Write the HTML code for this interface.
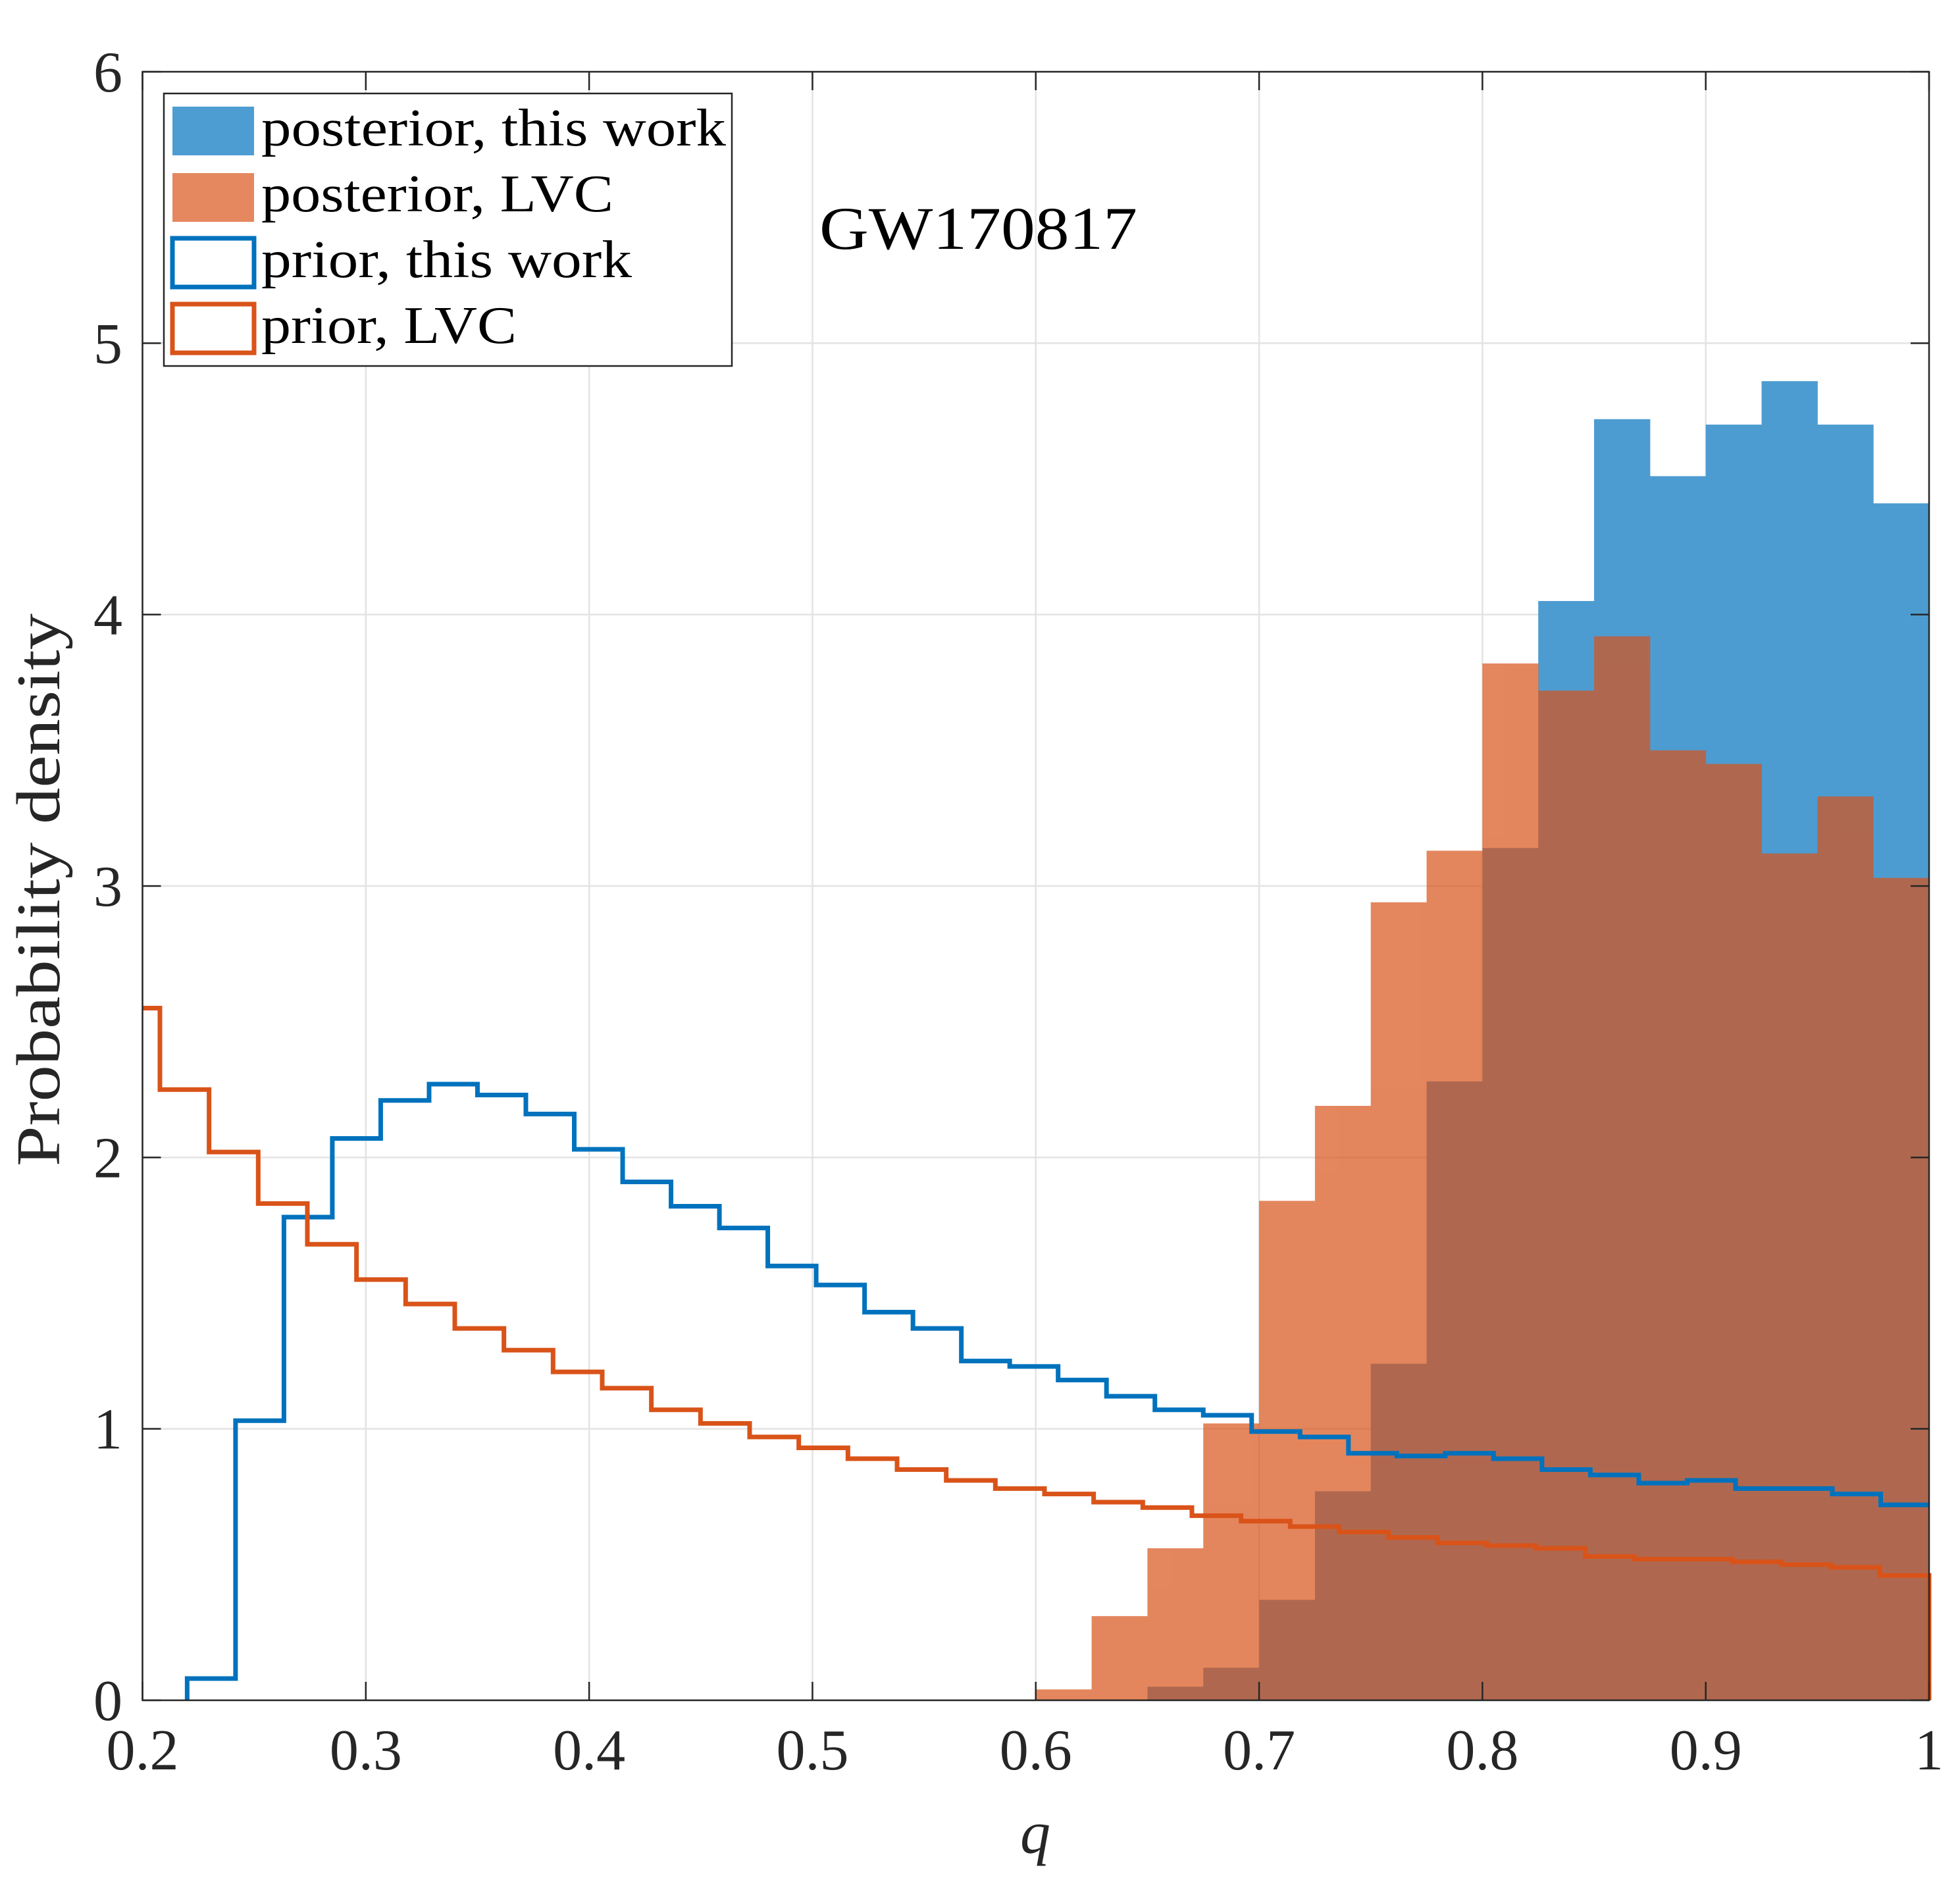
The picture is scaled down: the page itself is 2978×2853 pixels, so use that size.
<!DOCTYPE html>
<html><head><meta charset="utf-8"><style>
html,body{margin:0;padding:0;background:#fff;}
svg{display:block;font-family:"Liberation Serif",serif;}
</style></head><body>
<svg id="chart" width="2978" height="2853" viewBox="0 0 2978 2853" xmlns="http://www.w3.org/2000/svg">
<g id="grid"></g>
<g id="bars"></g>
<g id="lines"></g>
<g id="axes"></g>
<text x="1245" y="378" font-size="92" fill="#000" textLength="483" lengthAdjust="spacingAndGlyphs">GW170817</text>
<text x="1573" y="2815" font-size="92" font-style="italic" fill="#262626" text-anchor="middle">q</text>
<text transform="translate(90,1352) rotate(-90)" font-size="94" fill="#262626" text-anchor="middle" textLength="840" lengthAdjust="spacingAndGlyphs">Probability density</text>
<g>
<rect x="249" y="142" width="863" height="414" fill="#fff" stroke="#262626" stroke-width="2.5"/>
<rect x="262" y="162" width="124" height="74" fill="#4d9dd3"/>
<text x="397" y="221" font-size="80" fill="#000" textLength="706" lengthAdjust="spacingAndGlyphs">posterior, this work</text>
<rect x="262" y="263" width="124" height="74" fill="#e5885f"/>
<text x="397" y="321" font-size="80" fill="#000" textLength="535" lengthAdjust="spacingAndGlyphs">posterior, LVC</text>
<rect x="262" y="362" width="124" height="74" fill="none" stroke="#0072bd" stroke-width="7"/>
<text x="397" y="421" font-size="80" fill="#000" textLength="563" lengthAdjust="spacingAndGlyphs">prior, this work</text>
<rect x="262" y="462" width="124" height="74" fill="none" stroke="#d95319" stroke-width="7"/>
<text x="397" y="521" font-size="80" fill="#000" textLength="388" lengthAdjust="spacingAndGlyphs">prior, LVC</text>
</g>
</svg>
<script>
const xTicks=[0.2,0.3,0.4,0.5,0.6,0.7,0.8,0.9,1];
const xTickLabels=["0.2","0.3","0.4","0.5","0.6","0.7","0.8","0.9","1"];
const yTicks=[0,1,2,3,4,5,6];
const yTickLabels=["0","1","2","3","4","5","6"];
const postEdgeStart=0.6, postBinWidth=0.025;
const postThisWork=[0,0,0.05,0.12,0.37,0.77,1.24,2.28,3.14,4.05,4.72,4.51,4.70,4.86,4.70,4.41];
const postLVC=[0.04,0.31,0.56,1.02,1.84,2.19,2.94,3.13,3.82,3.72,3.92,3.50,3.45,3.12,3.33,3.03];
const priorThisStart=0.22, priorThisEnd=1.0;
const priorThisWork=[0.08,1.03,1.78,2.07,2.21,2.27,2.23,2.16,2.03,1.91,1.82,1.74,1.60,1.53,1.43,1.37,1.25,1.23,1.18,1.12,1.07,1.05,0.99,0.97,0.91,0.90,0.91,0.89,0.85,0.83,0.80,0.81,0.78,0.78,0.76,0.72];
const priorLVCStart=0.1858, priorLVCEnd=1.0;
const priorLVC=[2.55,2.25,2.02,1.83,1.68,1.55,1.46,1.37,1.29,1.21,1.15,1.07,1.02,0.97,0.93,0.89,0.85,0.81,0.78,0.76,0.73,0.71,0.68,0.66,0.64,0.62,0.60,0.58,0.57,0.56,0.53,0.52,0.52,0.51,0.50,0.49,0.46];

const X0=216.5,X1=2931,Y0=2583,Y1=109,xmin=0.2,xmax=1,ymin=0,ymax=6;
const sx=v=>X0+(v-xmin)/(xmax-xmin)*(X1-X0);
const sy=v=>Y0-(v-ymin)/(ymax-ymin)*(Y0-Y1);
const NS="http://www.w3.org/2000/svg";
function mk(tag,attrs,parent){const e=document.createElementNS(NS,tag);for(const k in attrs)e.setAttribute(k,attrs[k]);parent.appendChild(e);return e;}
const grid=document.getElementById('grid'),bars=document.getElementById('bars'),lines=document.getElementById('lines'),axes=document.getElementById('axes');

xTicks.forEach((t,i)=>{
  const g=mk('line',{x1:sx(t),x2:sx(t),y1:Y1,y2:Y0,stroke:'#e3e3e3','stroke-width':2.5},grid);
  
  
});
yTicks.forEach((t,i)=>{
  const g=mk('line',{x1:X0,x2:X1,y1:sy(t),y2:sy(t),stroke:'#e3e3e3','stroke-width':2.5},grid);
  
  
});

postThisWork.forEach((v,i)=>{
  if(v<=0)return;
  const a=postEdgeStart+i*postBinWidth,b=a+postBinWidth;
  const r=mk('rect',{x:sx(a),y:sy(v),width:sx(b)-sx(a)+0.5,height:sy(0)-sy(v),fill:'rgb(77,156,209)'},bars);
  
  
});
const og=mk('g',{opacity:0.7},bars);
postLVC.forEach((v,i)=>{
  if(v<=0)return;
  const a=postEdgeStart+i*postBinWidth,b=a+postBinWidth;
  const r=mk('rect',{x:sx(a),y:sy(v),width:sx(b)-sx(a)+0.5,height:sy(0)-sy(v),fill:'#d95319'},og);
  
  
});

function stairs(vals,start,end,color,name,drop){
  const w=(end-start)/vals.length;
  let d='';
  vals.forEach((v,i)=>{
    let a=Math.max(start+i*w,xmin),b=start+(i+1)*w;
    if(i===0)d+=(start>=xmin?'M'+sx(a)+','+sy(0)+' L'+sx(a)+','+sy(v):'M'+sx(a)+','+sy(v));
    else d+=' L'+sx(a)+','+sy(v);
    d+=' L'+sx(b)+','+sy(v);
  });
  if(drop)d+=' L'+sx(end)+','+sy(0);
  const p=mk('path',{d:d,fill:'none',stroke:color,'stroke-width':7,'stroke-linejoin':'miter'},lines);
  
  
}
stairs(priorThisWork,priorThisStart,priorThisEnd,'#0072bd','prior-this-work-line',false);
stairs(priorLVC,priorLVCStart,priorLVCEnd,'#d95319','prior-lvc-line',true);

const box=mk('rect',{x:X0,y:Y1,width:X1-X0,height:Y0-Y1,fill:'none',stroke:'#262626','stroke-width':2.5},axes);


xTicks.forEach((t,i)=>{
  const x=sx(t);
  const a=mk('line',{x1:x,x2:x,y1:Y0,y2:Y0-28,stroke:'#262626','stroke-width':2.5},axes);
  
  
  const b=mk('line',{x1:x,x2:x,y1:Y1,y2:Y1+28,stroke:'#262626','stroke-width':2.5},axes);
  
  
  const tx=mk('text',{x:x,y:2688,'font-size':88,fill:'#262626','text-anchor':'middle'},axes);
  tx.textContent=xTickLabels[i];
  
  
});
yTicks.forEach((t,i)=>{
  const y=sy(t);
  const a=mk('line',{x1:X0,x2:X0+28,y1:y,y2:y,stroke:'#262626','stroke-width':2.5},axes);
  
  
  const b=mk('line',{x1:X1,x2:X1-28,y1:y,y2:y,stroke:'#262626','stroke-width':2.5},axes);
  
  
  const tx=mk('text',{x:186,y:y+30,'font-size':88,fill:'#262626','text-anchor':'end'},axes);
  tx.textContent=yTickLabels[i];
  
  
});
</script>
</body></html>
